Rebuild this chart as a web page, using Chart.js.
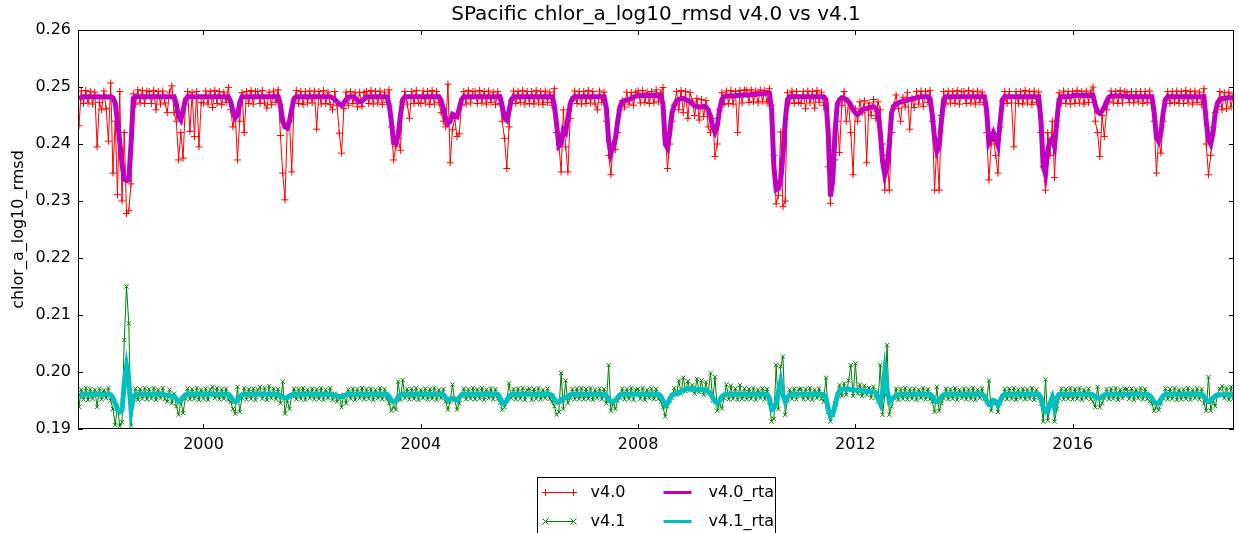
<!DOCTYPE html>
<html>
<head>
<meta charset="utf-8">
<title>SPacific chlor_a_log10_rmsd v4.0 vs v4.1</title>
<script src="https://cdn.jsdelivr.net/npm/chart.js@4.4.1/dist/chart.umd.min.js"></script>
<style>
  html, body { margin: 0; padding: 0; background: #fff; }
  #wrap { width: 1239px; height: 533px; }
</style>
</head>
<body>
<div id="wrap"><canvas id="myChart"></canvas></div>
<script>
// semi-monthly samples, first one at 1997 + 17/24, values in units of 1e-4
const firstSample = 1997 + 17 / 24;
const samplesPerYear = 24;

const xTicks = [2000, 2004, 2008, 2012, 2016];
const yTicks = [0.19, 0.20, 0.21, 0.22, 0.23, 0.24, 0.25, 0.26];

const v40 = [
  2432, 2493, 2471, 2494, 2472, 2492, 2470,
  2491, 2395, 2473, 2460, 2493, 2462, 2405, 2507, 2349, 2440, 2311, 2492, 2300, 2420, 2278, 2283, 2330, 2488, 2470, 2495, 2472, 2494, 2471, 2493,
  2492, 2471, 2494, 2460, 2492, 2470, 2493, 2472, 2455, 2491, 2502, 2455, 2440, 2372, 2420, 2375, 2470, 2492, 2422, 2490, 2413, 2492, 2395, 2473,
  2472, 2493, 2470, 2492, 2464, 2494, 2471, 2492, 2469, 2491, 2473, 2499, 2460, 2430, 2455, 2372, 2440, 2490, 2420, 2492, 2471, 2494, 2470, 2492,
  2492, 2471, 2494, 2472, 2463, 2491, 2469, 2493, 2473, 2495, 2415, 2349, 2302, 2430, 2440, 2351, 2474, 2494, 2471, 2492, 2469, 2492, 2472, 2493,
  2472, 2493, 2426, 2492, 2470, 2494, 2471, 2491, 2469, 2460, 2492, 2468, 2419, 2384, 2462, 2491, 2468, 2492, 2471, 2490, 2465, 2491, 2466, 2490,
  2492, 2471, 2494, 2470, 2492, 2472, 2493, 2469, 2491, 2473, 2495, 2430, 2372, 2395, 2410, 2389, 2474, 2492, 2470, 2445, 2492, 2471, 2494, 2472,
  2471, 2493, 2472, 2492, 2469, 2494, 2470, 2492, 2473, 2455, 2440, 2430, 2505, 2367, 2425, 2445, 2413, 2418, 2468, 2492, 2470, 2494, 2472, 2492,
  2492, 2471, 2494, 2472, 2492, 2470, 2493, 2473, 2491, 2469, 2492, 2471, 2440, 2410, 2357, 2430, 2476, 2493, 2471, 2492, 2473, 2494, 2470, 2492,
  2471, 2492, 2470, 2494, 2472, 2492, 2469, 2493, 2473, 2491, 2468, 2497, 2420, 2400, 2351, 2460, 2395, 2351, 2445, 2476, 2493, 2471, 2492, 2470,
  2492, 2471, 2494, 2472, 2492, 2470, 2460, 2493, 2473, 2491, 2440, 2380, 2346, 2400, 2390, 2420, 2460, 2476, 2465, 2491, 2470, 2490, 2468, 2491,
  2493, 2472, 2494, 2473, 2491, 2471, 2492, 2472, 2495, 2474, 2490, 2499, 2420, 2357, 2400, 2440, 2468, 2492, 2460, 2494, 2455, 2492, 2445, 2490,
  2474, 2450, 2480, 2442, 2478, 2448, 2476, 2430, 2420, 2445, 2378, 2400, 2460, 2490, 2469, 2493, 2471, 2494, 2470, 2492, 2420, 2494, 2472, 2495,
  2494, 2473, 2495, 2474, 2493, 2472, 2495, 2475, 2494, 2472, 2497, 2468, 2380, 2295, 2310, 2421, 2290, 2300, 2490, 2472, 2493, 2471, 2492, 2473,
  2471, 2492, 2462, 2493, 2472, 2492, 2463, 2494, 2473, 2491, 2468, 2460, 2360, 2296, 2390, 2372, 2440, 2385, 2468, 2492, 2440, 2474, 2420, 2346,
  2462, 2440, 2474, 2455, 2476, 2367, 2472, 2450, 2478, 2445, 2474, 2460, 2400, 2319, 2380, 2319, 2420, 2468, 2486, 2462, 2440, 2482, 2465, 2490,
  2426, 2480, 2464, 2492, 2470, 2493, 2466, 2492, 2473, 2494, 2440, 2319, 2400, 2319, 2450, 2492, 2470, 2493, 2472, 2492, 2471, 2494, 2470, 2492,
  2492, 2471, 2494, 2472, 2492, 2470, 2493, 2473, 2491, 2469, 2420, 2337, 2400, 2410, 2380, 2349, 2430, 2476, 2492, 2471, 2492, 2472, 2395, 2492,
  2471, 2492, 2470, 2494, 2472, 2492, 2469, 2493, 2473, 2491, 2420, 2360, 2319, 2420, 2380, 2440, 2341, 2440, 2490, 2472, 2493, 2471, 2492, 2470,
  2492, 2471, 2494, 2472, 2492, 2470, 2493, 2473, 2491, 2500, 2440, 2420, 2378, 2450, 2413, 2460, 2474, 2493, 2472, 2492, 2471, 2494, 2472, 2492,
  2491, 2473, 2492, 2472, 2492, 2474, 2492, 2471, 2492, 2473, 2493, 2472, 2440, 2349, 2410, 2384, 2440, 2476, 2492, 2471, 2492, 2473, 2493, 2471,
  2492, 2471, 2494, 2472, 2492, 2470, 2493, 2473, 2491, 2469, 2497, 2400, 2346, 2380, 2430, 2455, 2466, 2492, 2460, 2490, 2462, 2491, 2465, 2488
];

const v41 = [
  1939, 1969, 1952, 1972, 1951, 1970, 1953,
  1969, 1939, 1971, 1952, 1968, 1954, 1972, 1950, 1935, 1907, 1940, 1905, 1912, 2056, 2150, 2085, 1906, 1954, 1971, 1951, 1970, 1953, 1972, 1952,
  1970, 1953, 1972, 1951, 1969, 1954, 1972, 1952, 1948, 1969, 1945, 1962, 1940, 1925, 1950, 1928, 1954, 1971, 1952, 1970, 1953, 1972, 1951, 1969,
  1953, 1971, 1951, 1969, 1974, 1954, 1972, 1952, 1970, 1953, 1971, 1951, 1948, 1935, 1927, 1974, 1930, 1954, 1972, 1952, 1970, 1953, 1971, 1951,
  1969, 1974, 1953, 1972, 1951, 1975, 1954, 1971, 1952, 1970, 1945, 1983, 1927, 1950, 1935, 1958, 1971, 1952, 1970, 1953, 1972, 1951, 1969, 1954,
  1971, 1952, 1970, 1953, 1972, 1951, 1969, 1954, 1972, 1951, 1962, 1948, 1958, 1938, 1960, 1945, 1969, 1953, 1971, 1951, 1970, 1954, 1972, 1952,
  1970, 1953, 1971, 1951, 1969, 1954, 1972, 1952, 1970, 1953, 1945, 1932, 1940, 1934, 1983, 1951, 1986, 1954, 1970, 1952, 1971, 1953, 1972, 1951,
  1969, 1954, 1971, 1952, 1970, 1953, 1972, 1951, 1969, 1954, 1970, 1948, 1934, 1948, 1978, 1951, 1934, 1945, 1958, 1971, 1952, 1970, 1953, 1972,
  1952, 1970, 1953, 1972, 1951, 1969, 1954, 1971, 1952, 1970, 1953, 1946, 1934, 1938, 1950, 1980, 1954, 1970, 1952, 1971, 1953, 1972, 1951, 1969,
  1971, 1951, 1970, 1953, 1972, 1952, 1969, 1954, 1971, 1953, 1948, 1940, 1925, 1930, 1998, 1935, 1985, 1945, 1954, 1970, 1952, 1971, 1953, 1972,
  1952, 1970, 1953, 1972, 1951, 1969, 1954, 1971, 1952, 1970, 1945, 2012, 1932, 1945, 1935, 1950, 1954, 1971, 1952, 1970, 1953, 1972, 1951, 1969,
  1970, 1953, 1972, 1951, 1969, 1954, 1971, 1952, 1970, 1953, 1948, 1938, 1922, 1940, 1950, 1954, 1972, 1960, 1985, 1962, 1990, 1966, 1984, 1968,
  1977, 1962, 1988, 1965, 1985, 1960, 1982, 1963, 1998, 1950, 1991, 1932, 1945, 1936, 1954, 1978, 1952, 1976, 1953, 1971, 1951, 1977, 1953, 1971,
  1952, 1970, 1953, 1972, 1951, 1969, 1954, 1971, 1952, 1970, 1948, 1913, 1918, 2012, 1935, 2010, 2027, 1925, 1950, 1969, 1953, 1971, 1952, 1970,
  1971, 1952, 1970, 1953, 1972, 1951, 1969, 1954, 1971, 1953, 1948, 1990, 1930, 1913, 1925, 1945, 1960, 1977, 1958, 1980, 1960, 1985, 2012, 1958,
  2015, 1962, 1978, 1958, 1976, 1960, 1972, 1955, 1974, 1955, 1948, 2012, 1925, 1960, 2047, 1925, 1940, 1954, 1971, 1951, 1970, 1953, 1972, 1952,
  1970, 1953, 1971, 1951, 1969, 1954, 1972, 1952, 1970, 1953, 1948, 1930, 1974, 1932, 1945, 1954, 1971, 1952, 1970, 1953, 1972, 1951, 1969, 1954,
  1971, 1952, 1970, 1953, 1972, 1951, 1969, 1954, 1971, 1953, 1948, 1985, 1932, 1950, 1945, 1930, 1945, 1954, 1970, 1952, 1971, 1953, 1972, 1951,
  1969, 1954, 1971, 1952, 1970, 1953, 1972, 1951, 1969, 1954, 1945, 1913, 1987, 1915, 1940, 1960, 1913, 1935, 1954, 1971, 1952, 1970, 1953, 1972,
  1952, 1970, 1953, 1972, 1951, 1969, 1954, 1971, 1952, 1948, 1938, 1974, 1938, 1945, 1954, 1970, 1952, 1971, 1953, 1972, 1951, 1969, 1954, 1971,
  1970, 1953, 1971, 1951, 1969, 1954, 1972, 1952, 1970, 1953, 1948, 1945, 1932, 1940, 1933, 1945, 1954, 1971, 1952, 1970, 1953, 1972, 1951, 1969,
  1952, 1970, 1953, 1972, 1951, 1969, 1954, 1971, 1952, 1970, 1945, 1932, 1991, 1932, 1950, 1940, 1958, 1971, 1975, 1954, 1972, 1951, 1974, 1953
];

const v40rta = [
  2479, 2482, 2483, 2483, 2483, 2483, 2483,
  2483, 2483, 2483, 2482, 2483, 2483, 2482, 2483, 2481, 2472, 2440, 2404, 2365, 2338, 2336, 2337, 2400, 2480, 2483, 2483, 2483, 2483, 2483, 2483,
  2483, 2483, 2483, 2483, 2483, 2483, 2483, 2483, 2483, 2483, 2483, 2483, 2470, 2448, 2442, 2458, 2478, 2483, 2483, 2483, 2483, 2483, 2483, 2483,
  2483, 2483, 2483, 2483, 2483, 2483, 2483, 2483, 2483, 2483, 2483, 2483, 2474, 2458, 2446, 2450, 2472, 2483, 2483, 2483, 2483, 2483, 2483, 2483,
  2483, 2483, 2483, 2483, 2483, 2483, 2483, 2483, 2483, 2483, 2468, 2440, 2430, 2428, 2440, 2462, 2480, 2483, 2483, 2483, 2483, 2483, 2483, 2483,
  2483, 2483, 2483, 2483, 2483, 2483, 2483, 2483, 2483, 2481, 2478, 2474, 2470, 2468, 2472, 2478, 2482, 2483, 2483, 2481, 2476, 2474, 2475, 2479,
  2483, 2483, 2483, 2483, 2483, 2483, 2483, 2483, 2483, 2483, 2470, 2440, 2402, 2401, 2415, 2450, 2478, 2483, 2483, 2483, 2483, 2483, 2483, 2483,
  2483, 2483, 2483, 2483, 2483, 2483, 2483, 2483, 2483, 2476, 2462, 2445, 2436, 2440, 2452, 2450, 2448, 2462, 2478, 2483, 2483, 2483, 2483, 2483,
  2483, 2483, 2483, 2483, 2483, 2483, 2483, 2483, 2483, 2483, 2483, 2483, 2466, 2446, 2442, 2458, 2478, 2483, 2483, 2483, 2483, 2483, 2483, 2483,
  2483, 2483, 2483, 2483, 2483, 2483, 2483, 2483, 2483, 2483, 2483, 2468, 2435, 2396, 2400, 2425, 2420, 2445, 2470, 2480, 2483, 2483, 2483, 2483,
  2483, 2483, 2483, 2483, 2483, 2483, 2483, 2483, 2483, 2483, 2462, 2405, 2383, 2395, 2410, 2440, 2465, 2474, 2476, 2477, 2478, 2480, 2482, 2484,
  2485, 2485, 2485, 2485, 2485, 2485, 2485, 2485, 2485, 2485, 2485, 2470, 2400, 2393, 2420, 2455, 2468, 2475, 2478, 2480, 2480, 2478, 2476, 2474,
  2470, 2467, 2466, 2465, 2465, 2466, 2465, 2460, 2448, 2430, 2421, 2432, 2460, 2478, 2483, 2484, 2484, 2484, 2484, 2485, 2485, 2485, 2486, 2486,
  2486, 2486, 2487, 2487, 2487, 2488, 2488, 2488, 2489, 2489, 2489, 2460, 2360, 2320, 2322, 2335, 2380, 2440, 2478, 2483, 2483, 2483, 2483, 2483,
  2483, 2483, 2483, 2483, 2483, 2483, 2483, 2483, 2483, 2483, 2483, 2478, 2420, 2308, 2335, 2420, 2470, 2478, 2481, 2480, 2478, 2474, 2468, 2460,
  2455, 2452, 2455, 2460, 2462, 2462, 2464, 2465, 2465, 2463, 2455, 2420, 2370, 2346, 2360, 2400, 2455, 2466, 2470, 2472, 2474, 2475, 2476, 2477,
  2478, 2479, 2480, 2481, 2482, 2483, 2483, 2483, 2483, 2480, 2450, 2410, 2387, 2395, 2440, 2478, 2483, 2483, 2483, 2483, 2483, 2483, 2483, 2483,
  2483, 2483, 2483, 2483, 2483, 2483, 2483, 2483, 2483, 2483, 2460, 2402, 2410, 2420, 2410, 2398, 2440, 2478, 2483, 2483, 2483, 2483, 2483, 2483,
  2483, 2483, 2483, 2483, 2483, 2483, 2483, 2483, 2483, 2483, 2440, 2360, 2347, 2390, 2405, 2410, 2396, 2440, 2478, 2483, 2483, 2483, 2483, 2483,
  2485, 2485, 2485, 2485, 2485, 2485, 2485, 2485, 2485, 2485, 2468, 2456, 2454, 2458, 2465, 2475, 2482, 2484, 2484, 2484, 2484, 2484, 2484, 2484,
  2483, 2483, 2483, 2483, 2483, 2483, 2483, 2483, 2483, 2483, 2483, 2483, 2455, 2412, 2405, 2420, 2455, 2478, 2483, 2483, 2483, 2483, 2483, 2483,
  2483, 2483, 2483, 2483, 2483, 2483, 2483, 2483, 2483, 2483, 2483, 2440, 2408, 2400, 2420, 2455, 2472, 2478, 2480, 2480, 2481, 2481, 2481, 2481
];

const v41rta = [
  1958, 1960, 1961, 1961, 1961, 1961, 1961,
  1961, 1961, 1961, 1961, 1961, 1961, 1961, 1960, 1955, 1945, 1934, 1930, 1932, 1980, 2010, 1985, 1933, 1955, 1961, 1961, 1961, 1961, 1961, 1961,
  1961, 1961, 1961, 1961, 1961, 1961, 1961, 1960, 1959, 1958, 1958, 1957, 1953, 1948, 1950, 1956, 1960, 1961, 1961, 1961, 1961, 1961, 1961, 1961,
  1961, 1961, 1961, 1961, 1961, 1961, 1961, 1961, 1961, 1961, 1961, 1961, 1957, 1951, 1948, 1950, 1956, 1960, 1961, 1961, 1961, 1961, 1961, 1961,
  1961, 1961, 1961, 1961, 1961, 1961, 1961, 1961, 1961, 1961, 1958, 1956, 1954, 1955, 1958, 1960, 1961, 1961, 1961, 1961, 1961, 1961, 1961, 1961,
  1961, 1961, 1961, 1961, 1961, 1961, 1961, 1961, 1961, 1960, 1959, 1958, 1957, 1957, 1958, 1960, 1961, 1961, 1961, 1961, 1961, 1961, 1961, 1961,
  1961, 1961, 1961, 1961, 1961, 1961, 1961, 1961, 1961, 1961, 1957, 1950, 1948, 1950, 1955, 1960, 1961, 1961, 1961, 1961, 1961, 1961, 1961, 1961,
  1961, 1961, 1961, 1961, 1961, 1961, 1961, 1961, 1961, 1961, 1960, 1955, 1951, 1953, 1954, 1953, 1951, 1955, 1960, 1961, 1961, 1961, 1961, 1961,
  1961, 1961, 1961, 1961, 1961, 1961, 1961, 1961, 1961, 1961, 1961, 1955, 1946, 1945, 1950, 1957, 1960, 1961, 1961, 1961, 1961, 1961, 1961, 1961,
  1961, 1961, 1961, 1961, 1961, 1961, 1961, 1961, 1961, 1961, 1959, 1952, 1948, 1947, 1952, 1954, 1955, 1957, 1960, 1961, 1961, 1961, 1961, 1961,
  1961, 1961, 1961, 1961, 1961, 1961, 1961, 1961, 1961, 1961, 1958, 1952, 1948, 1948, 1951, 1956, 1960, 1961, 1961, 1961, 1961, 1961, 1961, 1961,
  1961, 1961, 1961, 1961, 1961, 1961, 1961, 1961, 1961, 1961, 1958, 1950, 1942, 1945, 1953, 1960, 1961, 1963, 1964, 1966, 1968, 1970, 1971, 1970,
  1970, 1970, 1969, 1969, 1969, 1969, 1968, 1966, 1962, 1955, 1948, 1945, 1950, 1957, 1960, 1961, 1961, 1961, 1961, 1961, 1961, 1961, 1961, 1961,
  1961, 1961, 1961, 1961, 1961, 1961, 1961, 1961, 1961, 1961, 1955, 1934, 1937, 1945, 1965, 1983, 1960, 1948, 1955, 1960, 1961, 1961, 1961, 1961,
  1961, 1961, 1961, 1961, 1961, 1961, 1961, 1961, 1961, 1961, 1960, 1955, 1935, 1922, 1926, 1940, 1958, 1967, 1969, 1970, 1970, 1970, 1969, 1969,
  1968, 1968, 1967, 1967, 1966, 1966, 1966, 1965, 1965, 1964, 1955, 1945, 1965, 2001, 1970, 1948, 1952, 1956, 1958, 1960, 1961, 1961, 1961, 1961,
  1961, 1961, 1961, 1961, 1961, 1961, 1961, 1961, 1961, 1961, 1957, 1950, 1948, 1950, 1956, 1960, 1961, 1961, 1961, 1961, 1961, 1961, 1961, 1961,
  1961, 1961, 1961, 1961, 1961, 1961, 1961, 1961, 1961, 1958, 1950, 1943, 1942, 1950, 1948, 1942, 1950, 1958, 1961, 1961, 1961, 1961, 1961, 1961,
  1961, 1961, 1961, 1961, 1961, 1961, 1961, 1961, 1961, 1961, 1955, 1938, 1930, 1930, 1945, 1955, 1938, 1955, 1961, 1961, 1961, 1961, 1961, 1961,
  1961, 1961, 1961, 1961, 1961, 1961, 1961, 1961, 1961, 1960, 1956, 1954, 1954, 1957, 1960, 1961, 1961, 1961, 1961, 1961, 1961, 1961, 1961, 1961,
  1961, 1961, 1961, 1961, 1961, 1961, 1961, 1961, 1961, 1961, 1959, 1954, 1947, 1945, 1946, 1952, 1958, 1961, 1961, 1961, 1961, 1961, 1961, 1961,
  1961, 1961, 1961, 1961, 1961, 1961, 1961, 1961, 1961, 1961, 1957, 1950, 1948, 1949, 1954, 1958, 1960, 1960, 1960, 1960, 1960, 1960, 1960, 1960
];

function toPoints(vals) {
  return vals.map((v, i) => ({ x: firstSample + i / samplesPerYear, y: v / 10000 }));
}

Chart.defaults.font.family = "'DejaVu Sans', sans-serif";
Chart.defaults.font.size = 16;
Chart.defaults.color = '#000';

const RED = '#ff0000', GREEN = '#008000', MAGENTA = '#bf00bf', CYAN = '#00bfbf';

// spines, inward tick marks and the matplotlib-like legend below the axes
const frame = {
  id: 'frame',
  afterDraw(chart) {
    const { ctx, chartArea: a, scales: { x, y } } = chart;
    ctx.save();
    ctx.strokeStyle = '#000';
    ctx.lineWidth = 1;
    ctx.strokeRect(a.left + 0.5, a.top + 0.5, a.width - 1, a.height - 1);
    ctx.beginPath();
    x.ticks.forEach(t => {
      const px = Math.round(x.getPixelForValue(t.value)) + 0.5;
      ctx.moveTo(px, a.bottom); ctx.lineTo(px, a.bottom - 5);
      ctx.moveTo(px, a.top); ctx.lineTo(px, a.top + 5);
    });
    y.ticks.forEach(t => {
      const py = Math.round(y.getPixelForValue(t.value)) + 0.5;
      ctx.moveTo(a.left, py); ctx.lineTo(a.left + 5, py);
      ctx.moveTo(a.right, py); ctx.lineTo(a.right - 5, py);
    });
    ctx.stroke();

    // legend, two columns like matplotlib ncol=2
    const w = 238, left = Math.round((a.left + a.right) / 2 - w / 2) + 0.5, top = a.bottom + 48.5;
    ctx.fillStyle = '#fff';
    ctx.fillRect(left, top, w, 80);
    ctx.strokeRect(left, top, w, 80);
    const ds = chart.data.datasets;
    const cols = [[ds[0], ds[1]], [ds[2], ds[3]]];
    const colX = [left + 8, left + 126];
    cols.forEach((col, ci) => {
      col.forEach((d, ri) => {
        const yy = top + 15 + ri * 29;
        const x0 = colX[ci], x1 = x0 + 28;
        ctx.strokeStyle = d.borderColor;
        ctx.lineWidth = Math.min(d.borderWidth, 3);
        ctx.beginPath(); ctx.moveTo(x0, yy); ctx.lineTo(x1, yy); ctx.stroke();
        if (d.pointRadius > 0) {
          ctx.lineWidth = 1;
          [x0, x1].forEach(px => {
            const r = d.pointRadius;
            ctx.beginPath();
            if (d.pointStyle === 'cross') {
              ctx.moveTo(px - r, yy); ctx.lineTo(px + r, yy);
              ctx.moveTo(px, yy - r); ctx.lineTo(px, yy + r);
            } else {
              ctx.moveTo(px - r, yy - r); ctx.lineTo(px + r, yy + r);
              ctx.moveTo(px - r, yy + r); ctx.lineTo(px + r, yy - r);
            }
            ctx.stroke();
          });
        }
        ctx.fillStyle = '#000';
        ctx.font = "16px 'DejaVu Sans'";
        ctx.textBaseline = 'middle';
        ctx.textAlign = 'left';
        ctx.fillText(d.label, x1 + 17, yy);
      });
    });
    ctx.restore();
  }
};

const config = {
  type: 'line',
  data: {
    datasets: [
      { label: 'v4.0', data: toPoints(v40), borderColor: RED, borderWidth: 1,
        pointStyle: 'cross', pointRadius: 3.5, pointBorderColor: RED, pointBorderWidth: 1, order: 2 },
      { label: 'v4.1', data: toPoints(v41), borderColor: GREEN, borderWidth: 1,
        pointStyle: 'crossRot', pointRadius: 3, pointBorderColor: GREEN, pointBorderWidth: 1, order: 2 },
      { label: 'v4.0_rta', data: toPoints(v40rta), borderColor: MAGENTA, borderWidth: 5,
        pointRadius: 0, order: 1 },
      { label: 'v4.1_rta', data: toPoints(v41rta), borderColor: CYAN, borderWidth: 5,
        pointRadius: 0, order: 1 }
    ]
  },
  options: {
    responsive: true,
    maintainAspectRatio: false,
    animation: false,
    events: [],
    layout: { padding: { left: 0, right: 1, top: 0, bottom: 0 } },
    elements: { line: { tension: 0 } },
    scales: {
      x: {
        type: 'linear',
        min: 1997.69,
        max: 2018.97,
        grid: { display: false, drawTicks: false },
        border: { display: false },
        afterBuildTicks: s => { s.ticks = xTicks.map(v => ({ value: v })); },
        afterFit: s => { s.height = 104; },
        ticks: { padding: 6, maxRotation: 0, callback: v => String(v) }
      },
      y: {
        min: 0.19,
        max: 0.26,
        grid: { display: false, drawTicks: false },
        border: { display: false },
        afterBuildTicks: s => { s.ticks = yTicks.map(v => ({ value: v })); },
        afterFit: s => { s.width = 78; },
        ticks: { padding: 7, callback: v => v.toFixed(2) },
        title: { display: true, text: 'chlor_a_log10_rmsd', padding: { top: 9, bottom: 0 } }
      }
    },
    plugins: {
      legend: { display: false },
      tooltip: { enabled: false },
      title: {
        display: true,
        fullSize: false,
        text: 'SPacific chlor_a_log10_rmsd v4.0 vs v4.1',
        font: { size: 20, weight: 'normal' },
        padding: { top: 3, bottom: 3 }
      }
    }
  },
  plugins: [frame]
};

var ctx = document.getElementById('myChart');
var myChart = new Chart(ctx, config);
</script>
</body>
</html>
